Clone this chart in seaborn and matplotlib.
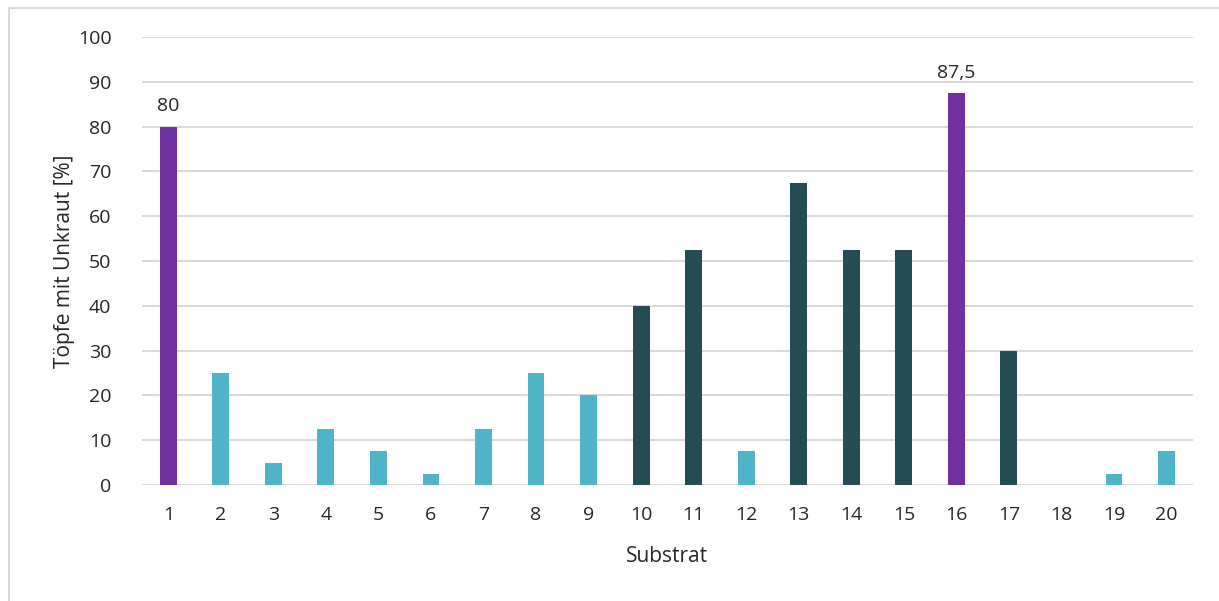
import matplotlib
matplotlib.use("Agg")
import matplotlib.pyplot as plt
import pandas as pd
import seaborn as sns
from matplotlib.lines import Line2D

substrat = [str(i) for i in range(1, 21)]
toepfe = [80, 25, 5, 12.5, 7.5, 2.5, 12.5, 25, 20, 40,
          52.5, 7.5, 67.5, 52.5, 52.5, 87.5, 30, 0, 2.5, 7.5]
gruppe = ["hoch", "niedrig", "niedrig", "niedrig", "niedrig", "niedrig", "niedrig", "niedrig", "niedrig", "mittel",
          "mittel", "niedrig", "mittel", "mittel", "mittel", "hoch", "mittel", "niedrig", "niedrig", "niedrig"]
beschriftet = {"1": "80", "16": "87,5"}

farben = {"hoch": "#7030A0", "niedrig": "#4FB4C8", "mittel": "#234C54"}

df = pd.DataFrame({"Substrat": substrat, "Wert": toepfe, "Gruppe": gruppe})

sns.set_theme(style="white")
plt.rcParams["font.family"] = ["Open Sans", "DejaVu Sans"]
text_col = "#262626"

fig = plt.figure(figsize=(12.19, 6.01), dpi=100)
ax = fig.add_axes([0.1165, 0.193, 0.862, 0.7455])

sns.barplot(data=df, x="Substrat", y="Wert", hue="Gruppe", palette=farben,
            dodge=False, width=0.32, saturation=1, linewidth=0,
            legend=False, ax=ax, order=substrat)

ax.set_ylim(0, 100)
ax.set_yticks(range(0, 101, 10))
ax.set_xlim(-0.5, len(substrat) - 0.5)
ax.yaxis.grid(True, color="#D9D9D9", linewidth=1.5)
ax.set_axisbelow(True)
for s in ax.spines.values():
    s.set_visible(False)
ax.tick_params(axis="both", length=0, labelsize=14, colors=text_col)
ax.tick_params(axis="x", pad=15)
ax.tick_params(axis="y", pad=22)

ax.set_xlabel("Substrat", fontsize=15, color=text_col, labelpad=16)
ax.set_ylabel("Töpfe mit Unkraut [%]", fontsize=15, color=text_col, labelpad=2)

for i, (s, v) in enumerate(zip(substrat, toepfe)):
    if s in beschriftet:
        ax.annotate(beschriftet[s], (i, v), xytext=(0, 8), textcoords="offset points",
                    ha="center", va="bottom", fontsize=14, color=text_col)

# Rahmen des Diagrammbereichs
fig.add_artist(Line2D([9 / 1219, 1.0], [1 - 8 / 601] * 2, transform=fig.transFigure,
                      color="#D9D9D9", linewidth=1.5))
fig.add_artist(Line2D([9 / 1219] * 2, [0, 1 - 8 / 601], transform=fig.transFigure,
                      color="#D9D9D9", linewidth=1.5))

fig.savefig("out.png", dpi=100)
